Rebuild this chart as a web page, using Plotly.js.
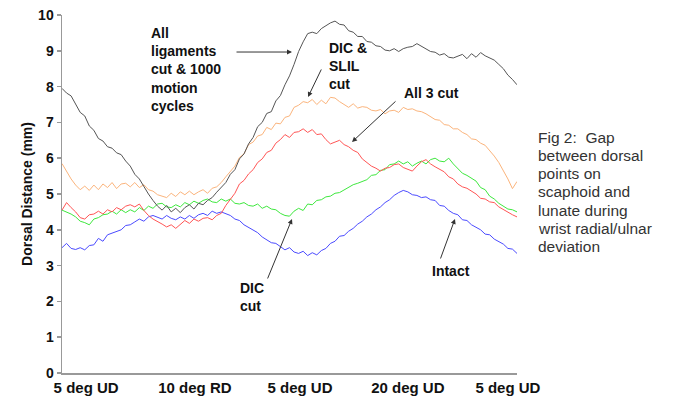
<!DOCTYPE html>
<html>
<head>
<meta charset="utf-8">
<script src="https://cdn.plot.ly/plotly-3.0.1.min.js"></script>
<style>html,body{margin:0;padding:0;background:#fff;}#chart{width:681px;height:400px;}</style>
</head>
<body>
<div id="chart"></div>
<script>
// Tick positions (in % of the motion cycle) and labels
var tickPositions = [5.3, 29.2, 52.3, 76.0, 98.0];
var tickLabels = ["5 deg UD", "10 deg RD", "5 deg UD", "20 deg UD", "5 deg UD"];

// Caption lines
var captionLines = ["Fig 2:  Gap", "between dorsal", "points on", "scaphoid and",
                    "lunate during", "wrist radial/ulnar", "deviation"];

// Dorsal distance (mm), sampled along the motion cycle
var allLigamentsCycled = [7.95,7.82,7.74,7.5,7.28,7.18,6.9,6.78,6.55,6.48,
6.32,6.28,6.15,6.1,5.92,5.78,5.55,5.42,5.2,5.0,
4.82,4.66,4.55,4.68,4.5,4.6,4.48,4.62,4.7,4.58,
4.74,4.7,4.82,4.9,5.05,5.2,5.32,5.55,5.68,5.98,
6.12,6.4,6.58,6.88,7.0,7.25,7.3,7.6,7.75,8.05,
8.3,8.62,8.98,9.25,9.48,9.52,9.48,9.62,9.7,9.78,
9.83,9.74,9.72,9.56,9.52,9.4,9.4,9.26,9.24,9.14,
9.12,9.02,9.0,9.06,8.98,9.06,9.1,9.12,9.2,9.12,
9.06,8.98,8.96,8.88,8.92,8.82,8.8,8.86,8.9,8.78,
8.92,8.82,8.95,8.86,8.8,8.74,8.62,8.5,8.32,8.2,8.05];

var dicSlilCut = [5.85,5.62,5.42,5.25,5.12,5.22,5.1,5.25,5.12,5.28,
5.18,5.32,5.15,5.28,5.3,5.2,5.32,5.18,5.26,5.12,
5.08,4.98,4.95,4.9,5.02,4.93,5.06,4.98,5.08,4.98,
5.06,5.12,5.02,5.16,5.2,5.32,5.48,5.62,5.78,6.02,
6.12,6.38,6.45,6.62,6.66,6.86,6.8,6.98,6.96,7.14,
7.18,7.42,7.48,7.58,7.55,7.64,7.5,7.62,7.52,7.7,
7.68,7.58,7.5,7.42,7.52,7.4,7.44,7.42,7.34,7.32,
7.36,7.24,7.32,7.34,7.28,7.42,7.36,7.38,7.32,7.3,
7.24,7.16,7.08,7.06,6.94,6.92,6.82,6.82,6.72,6.66,
6.54,6.52,6.42,6.36,6.22,6.06,5.88,5.66,5.42,5.15,5.35];

var all3Cut = [4.55,4.76,4.62,4.5,4.34,4.3,4.42,4.44,4.52,4.44,
4.56,4.5,4.62,4.56,4.66,4.7,4.64,4.72,4.54,4.4,
4.3,4.24,4.16,4.08,4.14,4.04,4.16,4.26,4.18,4.3,
4.24,4.32,4.34,4.28,4.4,4.46,4.68,4.86,5.02,5.28,
5.38,5.56,5.68,5.88,5.98,6.16,6.22,6.42,6.52,6.66,
6.58,6.72,6.74,6.82,6.72,6.8,6.66,6.68,6.52,6.4,
6.46,6.5,6.38,6.32,6.22,6.16,5.98,5.88,5.78,5.72,
5.64,5.72,5.74,5.82,5.84,5.74,5.7,5.64,5.78,5.9,
5.96,5.84,5.76,5.68,5.62,5.48,5.42,5.28,5.2,5.16,
5.08,5.0,4.88,4.86,4.78,4.76,4.64,4.56,4.5,4.42,4.36];

var dicCut = [4.55,4.5,4.44,4.36,4.24,4.2,4.14,4.3,4.34,4.42,
4.44,4.52,4.44,4.56,4.48,4.56,4.5,4.62,4.54,4.66,
4.6,4.72,4.74,4.64,4.62,4.7,4.64,4.76,4.7,4.8,
4.74,4.82,4.86,4.78,4.76,4.86,4.8,4.86,4.74,4.72,
4.76,4.68,4.66,4.72,4.6,4.66,4.58,4.56,4.46,4.4,
4.38,4.52,4.6,4.54,4.72,4.7,4.82,4.84,4.92,4.94,
5.02,5.04,5.12,5.18,5.26,5.3,5.36,5.4,5.52,5.54,
5.66,5.68,5.82,5.84,5.92,5.84,5.9,5.78,5.86,5.92,
5.84,5.96,6.0,5.92,5.9,6.0,5.84,5.72,5.58,5.52,
5.44,5.36,5.18,5.12,4.94,4.86,4.74,4.66,4.58,4.56,4.5];

var intact = [3.5,3.62,3.48,3.45,3.5,3.44,3.56,3.58,3.76,3.68,
3.86,3.9,3.96,4.0,4.12,4.14,4.22,4.3,4.24,4.36,
4.4,4.34,4.3,4.4,4.32,4.28,4.36,4.3,4.4,4.32,
4.42,4.46,4.4,4.52,4.46,4.5,4.46,4.4,4.3,4.26,
4.14,4.06,3.98,3.92,3.8,3.72,3.64,3.62,3.52,3.44,
3.5,3.38,3.34,3.4,3.28,3.36,3.3,3.42,3.48,3.62,
3.68,3.82,3.84,3.96,4.04,4.16,4.24,4.36,4.44,4.56,
4.64,4.76,4.84,4.96,5.04,5.1,5.06,4.98,4.96,4.9,
4.92,4.84,4.82,4.68,4.66,4.54,4.46,4.42,4.28,4.26,
4.14,4.06,4.0,3.88,3.86,3.74,3.66,3.6,3.48,3.46,3.34];

var FONT = "Liberation Sans, Arial, Helvetica, sans-serif";

function line(y, color, name) {
  return {type: "scatter", mode: "lines", y: y, name: name,
          line: {color: color, width: 1}, hoverinfo: "skip"};
}

var traces = [
  line(intact, "#4b4bff", "Intact"),
  line(dicCut, "#3ee83e", "DIC cut"),
  line(all3Cut, "#ff5555", "All 3 cut"),
  line(dicSlilCut, "#fbb47c", "DIC & SLIL cut"),
  line(allLigamentsCycled, "#555555", "All ligaments cut & 1000 motion cycles")
];

function arrow(x, y, ax, ay) {
  return {xref: "paper", yref: "paper", x: x, y: y, ax: ax, ay: ay, text: "",
          showarrow: true, arrowhead: 2, arrowsize: 1, arrowwidth: 1, arrowcolor: "#333"};
}
function label(x, y, text, anchorY, size, color) {
  return {xref: "paper", yref: "paper", x: x, y: y, text: text, showarrow: false,
          xanchor: "left", yanchor: anchorY || "top", align: "left",
          font: {family: FONT, size: size || 14, color: color || "#111"}};
}

var annotations = [
  label(0.1912, 0.9777, "<b>All<br>ligaments<br>cut & 1000<br>motion<br>cycles</b>"),
  arrow(0.5055, 0.8966, -57, 0),
  label(0.5824, 0.9358, "<b>DIC &<br>SLIL<br>cut</b>"),
  arrow(0.5407, 0.771, 14, -29),
  label(0.7473, 0.7821, "<b>All 3 cut</b>", "middle"),
  arrow(0.6374, 0.6453, 45, -42),
  label(0.3868, 0.2654, "<b>DIC<br>cut</b>"),
  arrow(0.5055, 0.4302, -25, 61),
  label(0.8088, 0.2849, "<b>Intact</b>", "middle"),
  arrow(0.8637, 0.4302, -15, 41)
];
// caption, one line per annotation to control line spacing (~18.3 px)
captionLines.forEach(function (t, i) {
  annotations.push(label(1.042, (373 - (137 + i * 18.3)) / 358, t, "middle", 15.5, "#333"));
});

var layout = {
  width: 681, height: 400,
  margin: {l: 62, r: 164, t: 15, b: 27},
  paper_bgcolor: "#fff", plot_bgcolor: "#fff",
  showlegend: false,
  font: {family: FONT, color: "#111"},
  xaxis: {range: [0, 100], showgrid: false, zeroline: false, showline: true,
          linecolor: "#999", linewidth: 1.5, ticks: "", tickvals: tickPositions,
          ticktext: tickLabels, tickfont: {family: FONT, size: 15, weight: 700, color: "#111"},
          fixedrange: true},
  yaxis: {range: [0, 10], dtick: 1, tick0: 0, showgrid: false, zeroline: false,
          showline: true, linecolor: "#999", linewidth: 1.5, ticks: "outside",
          ticklen: 4, tickcolor: "#999", tickwidth: 1.5,
          tickfont: {family: FONT, size: 14, weight: 700, color: "#111"},
          title: {text: "Dorsal Distance (mm)", standoff: 2,
                  font: {family: FONT, size: 14, weight: 700, color: "#111"}},
          fixedrange: true},
  annotations: annotations
};

Plotly.newPlot("chart", traces, layout, {displayModeBar: false, staticPlot: true});
</script>
</body>
</html>
